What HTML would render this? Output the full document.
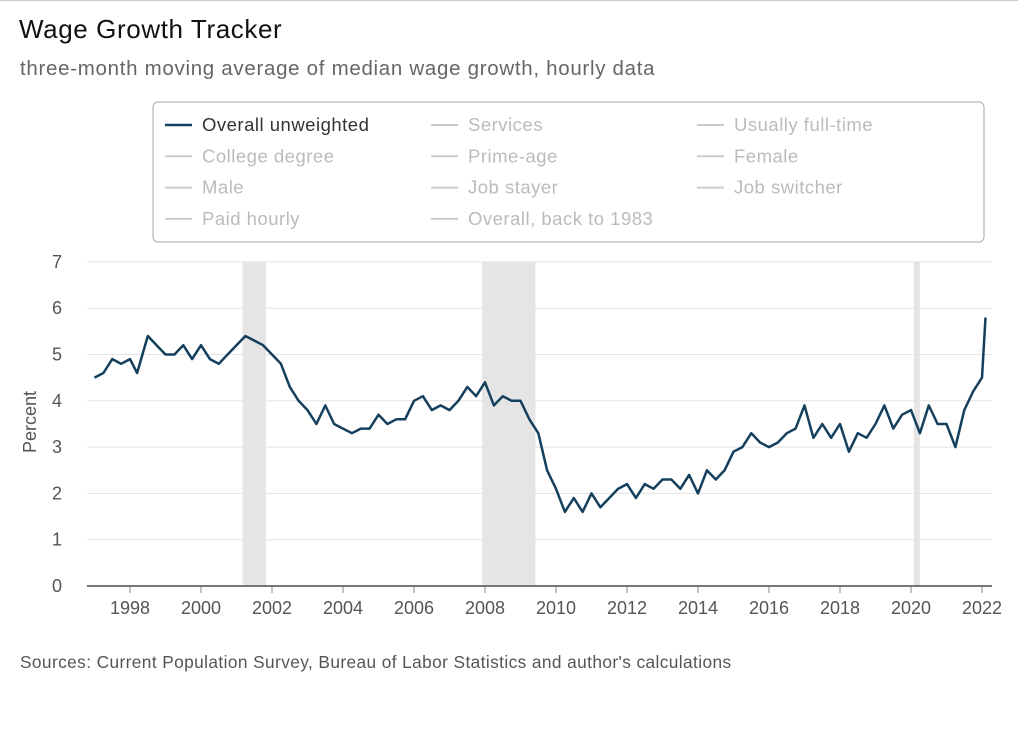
<!DOCTYPE html>
<html><head><meta charset="utf-8"><style>
body{margin:0;background:#fff;font-family:"Liberation Sans",sans-serif;}
#wrap{position:relative;width:1018px;height:745px;overflow:hidden;border-top:1px solid #ccc;box-sizing:border-box}
</style></head><body>
<div id="wrap">
<svg id="svg" width="1018" height="745">
<text x="19" y="37" font-size="26" letter-spacing="0.6" fill="#111">Wage Growth Tracker</text>
<text x="20" y="74" font-size="20.5" letter-spacing="0.7" fill="#666">three-month moving average of median wage growth, hourly data</text>
<rect x="153" y="101" width="831" height="140" rx="5" fill="#fff" stroke="#aaa"/>
<g id="legend"></g>
<g id="plot"></g>
<text transform="translate(36,421) rotate(-90)" text-anchor="middle" font-size="18" fill="#555">Percent</text>
<text x="20" y="667" font-size="17.3" letter-spacing="0.4" fill="#555">Sources: Current Population Survey, Bureau of Labor Statistics and author's calculations</text>
</svg></div>
<script>
const years=[1997.0,1997.25,1997.5,1997.75,1998.0,1998.2,1998.5,1998.75,1999.0,1999.25,1999.5,1999.75,2000.0,2000.25,2000.5,2000.75,2001.0,2001.25,2001.5,2001.75,2002.0,2002.25,2002.5,2002.75,2003.0,2003.25,2003.5,2003.75,2004.0,2004.25,2004.5,2004.75,2005.0,2005.25,2005.5,2005.75,2006.0,2006.25,2006.5,2006.75,2007.0,2007.25,2007.5,2007.75,2008.0,2008.25,2008.5,2008.75,2009.0,2009.25,2009.5,2009.75,2010.0,2010.25,2010.5,2010.75,2011.0,2011.25,2011.5,2011.75,2012.0,2012.25,2012.5,2012.75,2013.0,2013.25,2013.5,2013.75,2014.0,2014.25,2014.5,2014.75,2015.0,2015.25,2015.5,2015.75,2016.0,2016.25,2016.5,2016.75,2017.0,2017.25,2017.5,2017.75,2018.0,2018.25,2018.5,2018.75,2019.0,2019.25,2019.5,2019.75,2020.0,2020.25,2020.5,2020.75,2021.0,2021.25,2021.5,2021.75,2022.0,2022.1];
const wage=[4.5,4.6,4.9,4.8,4.9,4.6,5.4,5.2,5.0,5.0,5.2,4.9,5.2,4.9,4.8,5.0,5.2,5.4,5.3,5.2,5.0,4.8,4.3,4.0,3.8,3.5,3.9,3.5,3.4,3.3,3.4,3.4,3.7,3.5,3.6,3.6,4.0,4.1,3.8,3.9,3.8,4.0,4.3,4.1,4.4,3.9,4.1,4.0,4.0,3.6,3.3,2.5,2.1,1.6,1.9,1.6,2.0,1.7,1.9,2.1,2.2,1.9,2.2,2.1,2.3,2.3,2.1,2.4,2.0,2.5,2.3,2.5,2.9,3.0,3.3,3.1,3.0,3.1,3.3,3.4,3.9,3.2,3.5,3.2,3.5,2.9,3.3,3.2,3.5,3.9,3.4,3.7,3.8,3.3,3.9,3.5,3.5,3.0,3.8,4.2,4.5,5.8];
const recessions=[[2001.17,2001.83],[2007.92,2009.42],[2020.08,2020.25]];
const yTicks=[0,1,2,3,4,5,6,7];
const xTicks=[1998,2000,2002,2004,2006,2008,2010,2012,2014,2016,2018,2020,2022];
const legendItems=["Overall unweighted","Services","Usually full-time","College degree","Prime-age","Female","Male","Job stayer","Job switcher","Paid hourly","Overall, back to 1983"];
const NS="http://www.w3.org/2000/svg";
const X=y=>130+(y-1998)*35.5, Y=v=>585-v*46.3;
function mk(t,a,p){const e=document.createElementNS(NS,t);for(const k in a)e.setAttribute(k,a[k]);p.appendChild(e);return e;}
const plot=document.getElementById('plot');
recessions.forEach(r=>{const e=mk('rect',{x:X(r[0]),y:Y(7),width:X(r[1])-X(r[0]),height:Y(0)-Y(7),fill:'#e5e5e5'},plot);

});
yTicks.forEach(t=>{if(t>0){const l=mk('line',{x1:87,x2:992,y1:Y(t),y2:Y(t),stroke:'#e3e3e3'},plot);

}
const tx=mk('text',{x:62,y:Y(t)+6,'text-anchor':'end','font-size':18,fill:'#555'},plot);tx.textContent=t;

});
xTicks.forEach(t=>{mk('line',{x1:X(t),x2:X(t),y1:585,y2:592,stroke:'#888'},plot);
const tx=mk('text',{x:X(t),y:613,'text-anchor':'middle','font-size':18,fill:'#555'},plot);tx.textContent=t;

});
const ax=mk('line',{x1:87,x2:992,y1:585,y2:585,stroke:'#777','stroke-width':2},plot);


const ln=mk('path',{d:years.map((y,i)=>(i?'L':'M')+X(y).toFixed(1)+','+Y(wage[i]).toFixed(1)).join(''),fill:'none',stroke:'#14405e','stroke-width':2.5,'stroke-linejoin':'round'},plot);


const lg=document.getElementById('legend');
legendItems.forEach((n,i)=>{const c=i%3,r=Math.floor(i/3);const x=165+c*266,y=124+r*31.3;const on=i===0;
const g=mk('g',{},lg);


mk('line',{x1:x,x2:x+27,y1:y,y2:y,stroke:on?'#14405e':'#ccc','stroke-width':on?2.5:2},g);
const t=mk('text',{x:x+37,y:y+6,'font-size':18.5,'letter-spacing':0.5,fill:on?'#333':'#bbb'},g);t.textContent=n;});
</script>
</body></html>
